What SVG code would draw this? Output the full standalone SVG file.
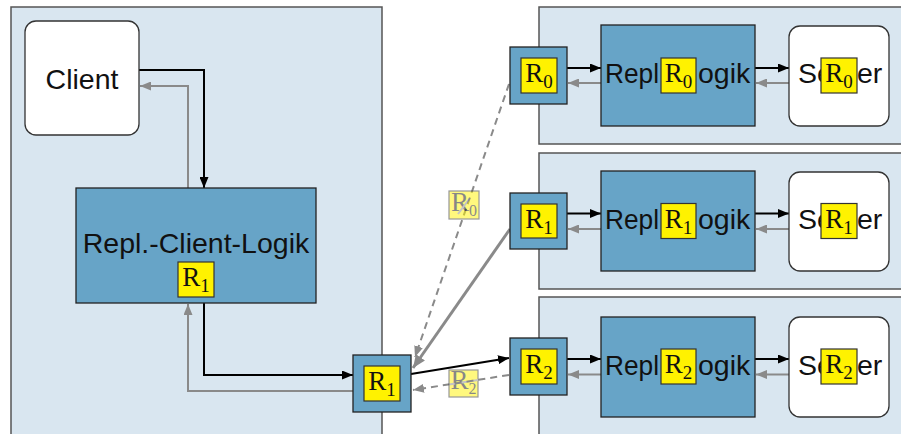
<svg xmlns="http://www.w3.org/2000/svg" width="901" height="434" viewBox="0 0 901 434">
  <style>
    .panel { fill: #d9e6f0; stroke: #555; stroke-width: 1.5; }
    .logic { fill: #67a4c7; stroke: #222; stroke-width: 1.3; }
    .end { fill: #ffffff; stroke: #333; stroke-width: 1.3; }
    .port { fill: #67a4c7; stroke: #222; stroke-width: 1.3; }
    .tag { fill: #fff200; stroke: #333; stroke-width: 1.2; }
    .lbl { font-family: "Liberation Sans", Arial, sans-serif; font-size: 28.5px; fill: #111; }
    .r { font-family: "Liberation Serif", "Times New Roman", serif; font-size: 27px; fill: #111; }
    .fwd { fill: none; stroke: #000; stroke-width: 2; marker-end: url(#ah-k); }
    .back { fill: none; stroke: #8a8a8a; stroke-width: 2; marker-end: url(#ah-g); }
    .dash { fill: none; stroke: #8a8a8a; stroke-width: 2; stroke-dasharray: 7 5; marker-end: url(#ah-g); }
    .thick { fill: none; stroke: #8a8a8a; stroke-width: 3; marker-end: url(#ah-gl); }
    .ghost { opacity: 0.5; }
  </style>
  <defs>
    <marker id="ah-k" viewBox="0 0 11 9" refX="11" refY="4.5" markerWidth="11" markerHeight="9" markerUnits="userSpaceOnUse" orient="auto">
      <path d="M0,0 L11,4.5 L0,9 z" fill="#000"/>
    </marker>
    <marker id="ah-g" viewBox="0 0 11 9" refX="11" refY="4.5" markerWidth="11" markerHeight="9" markerUnits="userSpaceOnUse" orient="auto">
      <path d="M0,0 L11,4.5 L0,9 z" fill="#8a8a8a"/>
    </marker>
    <marker id="ah-gl" viewBox="0 0 13 11" refX="13" refY="5.5" markerWidth="13" markerHeight="11" markerUnits="userSpaceOnUse" orient="auto">
      <path d="M0,0 L13,5.5 L0,11 z" fill="#8a8a8a"/>
    </marker>
  </defs>

  <rect width="901" height="434" fill="#ffffff"/>

  <!-- container panels -->
  <g id="panels">
    <rect class="panel" x="11" y="7" width="371" height="440"/>
    <rect class="panel" x="539" y="7" width="370" height="137"/>
    <rect class="panel" x="539" y="153" width="370" height="136"/>
    <rect class="panel" x="539" y="297" width="370" height="150"/>
  </g>

  <!-- connectors -->
  <g id="connectors">
    <path class="fwd" d="M139,70 H204 V188"/>
    <path class="back" d="M188,188 V86 H140"/>
    <path class="fwd" d="M204,303 V375 H353"/>
    <path class="back" d="M353,391 H188 V304"/>

    <path class="fwd" d="M411,374 L509,358"/>
    <path class="dash" d="M509,375 L413,390"/>
    <path class="thick" d="M510,229 L413,368"/>
    <path class="dash" d="M509,84 L415,357"/>

    <path class="fwd" d="M567,68 H601"/>
    <path class="back" d="M601,83 H568"/>
    <path class="fwd" d="M755,68 H789"/>
    <path class="back" d="M789,83 H756"/>

    <path class="fwd" d="M567,213.5 H601"/>
    <path class="back" d="M601,229 H568"/>
    <path class="fwd" d="M755,213.5 H789"/>
    <path class="back" d="M789,229 H756"/>

    <path class="fwd" d="M567,359 H601"/>
    <path class="back" d="M601,374.5 H568"/>
    <path class="fwd" d="M755,359 H789"/>
    <path class="back" d="M789,374.5 H756"/>

    <g class="ghost">
      <rect class="tag" x="449" y="191" width="30" height="28"/>
      <text class="r" x="464" y="211" text-anchor="middle" font-size="22">R<tspan font-size="16" dy="5">0</tspan></text>
      <line x1="470" y1="198" x2="458" y2="214" stroke="#8a8a8a" stroke-width="2"/>
    </g>
    <g class="ghost">
      <rect class="tag" x="449" y="370" width="29" height="27"/>
      <text class="r" x="463.5" y="389" text-anchor="middle" font-size="22">R<tspan font-size="16" dy="5">2</tspan></text>
      <line x1="449" y1="384.5" x2="478" y2="380" stroke="#8a8a8a" stroke-width="2"/>
    </g>
  </g>

  <!-- client side -->
  <g id="client">
    <rect class="end" x="25" y="21" width="114" height="114" rx="11"/>
    <text class="lbl" x="82" y="89" text-anchor="middle">Client</text>
  </g>
  <g id="client-logic">
    <rect class="logic" x="76" y="188" width="240" height="115"/>
    <text class="lbl" x="196" y="253" text-anchor="middle">Repl.-Client-Logik</text>
    <rect class="tag" x="178" y="262" width="36" height="35"/>
    <text class="r" x="196" y="286" text-anchor="middle">R<tspan font-size="19" dy="6">1</tspan></text>
  </g>
  <g id="client-port">
    <rect class="port" x="353" y="355" width="58" height="57"/>
    <rect class="tag" x="364" y="366" width="36" height="35"/>
    <text class="r" x="382" y="390" text-anchor="middle">R<tspan font-size="19" dy="6">1</tspan></text>
  </g>

  <!-- replica 0 -->
  <g id="port-r0">
    <rect class="port" x="510" y="47" width="57" height="57"/>
    <rect class="tag" x="521" y="58" width="36" height="35"/>
    <text class="r" x="539" y="82" text-anchor="middle">R<tspan font-size="19" dy="6">0</tspan></text>
  </g>
  <g id="logic-r0">
    <rect class="logic" x="601" y="25" width="154" height="101"/>
    <text class="lbl" x="605" y="83" textLength="54" lengthAdjust="spacingAndGlyphs">Repl</text>
    <text class="lbl" x="698" y="83">ogik</text>
    <rect class="tag" x="661" y="58" width="35" height="35"/>
    <text class="r" x="678.5" y="82" text-anchor="middle">R<tspan font-size="19" dy="6">0</tspan></text>
  </g>
  <g id="server-r0">
    <rect class="end" x="789" y="26" width="100" height="100" rx="11"/>
    <text class="lbl" x="798" y="83">Se</text>
    <text class="lbl" x="857" y="83">er</text>
    <rect class="tag" x="821" y="58" width="36" height="35"/>
    <text class="r" x="839" y="82" text-anchor="middle">R<tspan font-size="19" dy="6">0</tspan></text>
  </g>

  <!-- replica 1 -->
  <g id="port-r1">
    <rect class="port" x="510" y="193" width="57" height="56"/>
    <rect class="tag" x="521" y="204" width="36" height="34"/>
    <text class="r" x="539" y="227.5" text-anchor="middle">R<tspan font-size="19" dy="6">1</tspan></text>
  </g>
  <g id="logic-r1">
    <rect class="logic" x="601" y="171" width="154" height="100"/>
    <text class="lbl" x="605" y="229" textLength="54" lengthAdjust="spacingAndGlyphs">Repl</text>
    <text class="lbl" x="698" y="229">ogik</text>
    <rect class="tag" x="661" y="203.5" width="35" height="35"/>
    <text class="r" x="678.5" y="227.5" text-anchor="middle">R<tspan font-size="19" dy="6">1</tspan></text>
  </g>
  <g id="server-r1">
    <rect class="end" x="789" y="172" width="100" height="99" rx="11"/>
    <text class="lbl" x="798" y="229">Se</text>
    <text class="lbl" x="857" y="229">er</text>
    <rect class="tag" x="821" y="203.5" width="36" height="35"/>
    <text class="r" x="839" y="227.5" text-anchor="middle">R<tspan font-size="19" dy="6">1</tspan></text>
  </g>

  <!-- replica 2 -->
  <g id="port-r2">
    <rect class="port" x="510" y="338" width="57" height="57"/>
    <rect class="tag" x="521" y="349" width="36" height="35"/>
    <text class="r" x="539" y="373" text-anchor="middle">R<tspan font-size="19" dy="6">2</tspan></text>
  </g>
  <g id="logic-r2">
    <rect class="logic" x="601" y="317" width="154" height="100"/>
    <text class="lbl" x="605" y="375" textLength="54" lengthAdjust="spacingAndGlyphs">Repl</text>
    <text class="lbl" x="698" y="375">ogik</text>
    <rect class="tag" x="661" y="349" width="35" height="35"/>
    <text class="r" x="678.5" y="373" text-anchor="middle">R<tspan font-size="19" dy="6">2</tspan></text>
  </g>
  <g id="server-r2">
    <rect class="end" x="789" y="317" width="100" height="100" rx="11"/>
    <text class="lbl" x="798" y="375">Se</text>
    <text class="lbl" x="857" y="375">er</text>
    <rect class="tag" x="821" y="349" width="36" height="35"/>
    <text class="r" x="839" y="373" text-anchor="middle">R<tspan font-size="19" dy="6">2</tspan></text>
  </g>
</svg>
